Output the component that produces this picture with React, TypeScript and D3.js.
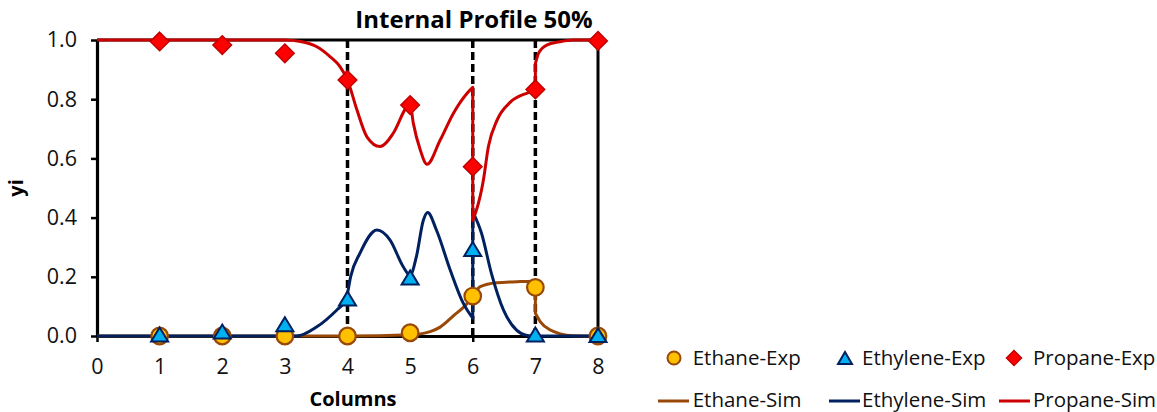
import React, { useEffect, useRef } from "react";
import * as d3 from "d3";

const W = 1157;
const H = 412;
const FONT = "'Open Sans', 'Noto Sans', sans-serif";

// axis ticks
const columnTicks = [0, 1, 2, 3, 4, 5, 6, 7, 8];
const yTicks = [0, 0.2, 0.4, 0.6, 0.8, 1.0];
const sectionLines = [4, 6, 7];

// experimental points
const expColumns = [1, 2, 3, 4, 5, 6, 7, 8];
const ethaneExp = [0, 0, 0, 0, 0.011, 0.135, 0.164, 0];
const ethyleneExp = [0.005, 0.015, 0.04, 0.127, 0.198, 0.294, 0.005, 0.003];
const propaneExp = [0.995, 0.983, 0.955, 0.865, 0.78, 0.572, 0.833, 0.997];

// simulated profiles, split at column jumps
const ethaneSimA = [
  [0, 0], [1, 0], [2, 0], [3, 0], [4, 0], [5, 0.004], [5.32, 0.015], [5.48, 0.03],
  [5.69, 0.068], [5.91, 0.11], [6, 0.135], [6.12, 0.167], [6.38, 0.18], [6.76, 0.184], [7, 0.185],
];
const ethaneSimB = [
  [7, 0.077], [7.08, 0.048], [7.24, 0.02], [7.4, 0.007], [7.6, 0.001], [8, 0],
];
const ethyleneSimA = [
  [0, 0], [1, 0], [2, 0], [3, 0], [3.19, 0], [3.51, 0.031], [3.83, 0.088], [3.93, 0.11],
  [4.0, 0.145], [4.05, 0.2], [4.2, 0.28], [4.47, 0.358], [4.68, 0.324], [4.89, 0.234],
  [5.0, 0.205], [5.1, 0.268], [5.21, 0.39], [5.28, 0.417], [5.42, 0.358], [5.64, 0.223],
  [5.85, 0.11], [6, 0.06],
];
const ethyleneSimB = [
  [6, 0.42], [6.14, 0.347], [6.3, 0.21], [6.49, 0.088], [6.7, 0.02], [6.85, 0.003], [7, 0], [8, 0],
];
const propaneSimA = [
  [0, 1], [1, 1], [2, 1], [3, 1], [3.25, 0.995], [3.51, 0.977], [3.72, 0.944], [3.88, 0.91],
  [4, 0.865], [4.15, 0.764], [4.31, 0.673], [4.52, 0.64], [4.73, 0.685], [4.95, 0.775],
  [5.0, 0.784], [5.05, 0.72], [5.16, 0.63], [5.27, 0.58], [5.48, 0.662], [5.69, 0.752],
  [5.91, 0.82], [6, 0.84],
];
const propaneSimB = [
  [6, 0.39], [6.09, 0.448], [6.14, 0.493], [6.17, 0.527], [6.25, 0.64], [6.39, 0.73],
  [6.6, 0.79], [6.86, 0.82], [7, 0.83],
];
const propaneSimC = [
  [7, 0.92], [7.05, 0.955], [7.18, 0.983], [7.39, 0.994], [7.6, 1], [8, 1],
];

const C = {
  ethaneLine: "#984807",
  ethaneFill: "#FFC000",
  ethyleneLine: "#002060",
  ethyleneFill: "#00B0F0",
  propaneLine: "#CC0000",
  propaneFill: "#FF0000",
  propaneEdge: "#C00000",
};

const triPath = (cx: number, cy: number, hw: number, hh: number) =>
  `M${cx},${cy - hh}L${cx + hw},${cy + hh}L${cx - hw},${cy + hh}Z`;
const diaPath = (cx: number, cy: number, r: number) =>
  `M${cx},${cy - r}L${cx + r},${cy}L${cx},${cy + r}L${cx - r},${cy}Z`;

export default function App() {
  const ref = useRef<SVGSVGElement>(null);

  useEffect(() => {
    document.body.style.margin = "0";
    const svg = d3.select(ref.current);
    svg.selectAll("*").remove();

    const x = d3.scaleLinear().domain([0, 8]).range([97, 598]);
    const y = d3.scaleLinear().domain([0, 1]).range([336, 40]);

    // section dashed lines
    svg
      .append("g")
      .selectAll("line")
      .data(sectionLines)
      .join("line")
      .attr("x1", (d) => x(d))
      .attr("x2", (d) => x(d))
      .attr("y1", y(1))
      .attr("y2", y(0))
      .attr("stroke", "#000")
      .attr("stroke-width", 3.5)
      .attr("stroke-dasharray", "8,4");

    // box top and right
    svg
      .append("line")
      .attr("x1", x(0))
      .attr("x2", x(8))
      .attr("y1", y(1))
      .attr("y2", y(1))
      .attr("stroke", "#000")
      .attr("stroke-width", 3);
    svg
      .append("line")
      .attr("x1", x(8))
      .attr("x2", x(8))
      .attr("y1", y(1))
      .attr("y2", y(0))
      .attr("stroke", "#000")
      .attr("stroke-width", 3);

    // axes
    const gy = svg
      .append("g")
      .attr("transform", `translate(${x(0)},0)`)
      .call(
        d3
          .axisLeft(y)
          .tickValues(yTicks)
          .tickFormat(d3.format(".1f"))
          .tickSize(6)
          .tickSizeOuter(0)
          .tickPadding(14)
      );
    const gx = svg
      .append("g")
      .attr("transform", `translate(0,${y(0)})`)
      .call(
        d3
          .axisBottom(x)
          .tickValues(columnTicks)
          .tickFormat(d3.format("d"))
          .tickSize(6)
          .tickSizeOuter(0)
      );
    [gx, gy].forEach((g) => {
      g.select(".domain").attr("stroke", "#000").attr("stroke-width", 3.2);
      g.selectAll(".tick line").attr("stroke", "#000").attr("stroke-width", 2.5);
      g.selectAll(".tick text")
        .attr("fill", "#111")
        .style("font-family", FONT)
        .style("font-size", "21.5px");
    });
    gx.selectAll(".tick text").attr("y", 38).attr("dy", 0);

    // sim lines
    const line = d3
      .line<number[]>()
      .x((d) => x(d[0]))
      .y((d) => y(d[1]))
      .curve(d3.curveMonotoneX);
    const joined = (segs: number[][][]) =>
      segs
        .map((s, i) => {
          const p = line(s) as string;
          return i === 0 ? p : "L" + p.slice(1);
        })
        .join("");

    const sims: [number[][][], string][] = [
      [[ethaneSimA, ethaneSimB], C.ethaneLine],
      [[ethyleneSimA, ethyleneSimB], C.ethyleneLine],
      [[propaneSimA, propaneSimB, propaneSimC], C.propaneLine],
    ];
    sims.forEach(([segs, col]) => {
      svg
        .append("path")
        .attr("d", joined(segs))
        .attr("fill", "none")
        .attr("stroke", col)
        .attr("stroke-width", 3)
        .attr("stroke-linejoin", "round");
    });

    // exp markers
    svg
      .append("g")
      .selectAll("circle")
      .data(expColumns)
      .join("circle")
      .attr("cx", (d) => x(d))
      .attr("cy", (_, i) => y(ethaneExp[i]))
      .attr("r", 8.3)
      .attr("fill", C.ethaneFill)
      .attr("stroke", C.ethaneLine)
      .attr("stroke-width", 2.2);
    svg
      .append("g")
      .selectAll("path")
      .data(expColumns)
      .join("path")
      .attr("d", (d, i) => triPath(x(d), y(ethyleneExp[i]), 8.5, 7))
      .attr("fill", C.ethyleneFill)
      .attr("stroke", C.ethyleneLine)
      .attr("stroke-width", 2);
    svg
      .append("g")
      .selectAll("path")
      .data(expColumns)
      .join("path")
      .attr("d", (d, i) => diaPath(x(d), y(propaneExp[i]), 9.3))
      .attr("fill", C.propaneFill)
      .attr("stroke", C.propaneEdge)
      .attr("stroke-width", 1.5);

    // titles
    svg
      .append("text")
      .attr("x", 474)
      .attr("y", 28)
      .attr("text-anchor", "middle")
      .style("font-family", FONT)
      .style("font-weight", "bold")
      .style("font-size", "24px")
      .attr("fill", "#000")
      .text("Internal Profile 50%");
    svg
      .append("text")
      .attr("x", 353)
      .attr("y", 406)
      .attr("text-anchor", "middle")
      .style("font-family", FONT)
      .style("font-weight", "bold")
      .style("font-size", "20px")
      .attr("fill", "#000")
      .text("Columns");
    svg
      .append("text")
      .attr("transform", "translate(23,188) rotate(-90)")
      .attr("text-anchor", "middle")
      .style("font-family", FONT)
      .style("font-weight", "bold")
      .style("font-size", "20px")
      .attr("fill", "#000")
      .text("yi");

    // legend
    const lg = svg.append("g").style("font-family", FONT).style("font-size", "20.5px");
    const row1 = 358;
    const row2 = 401;
    lg.append("circle")
      .attr("cx", 674)
      .attr("cy", row1)
      .attr("r", 6.5)
      .attr("fill", C.ethaneFill)
      .attr("stroke", C.ethaneLine)
      .attr("stroke-width", 2);
    lg.append("path")
      .attr("d", triPath(845, row1, 7, 6))
      .attr("fill", C.ethyleneFill)
      .attr("stroke", C.ethyleneLine)
      .attr("stroke-width", 2);
    lg.append("path")
      .attr("d", diaPath(1014, row1, 7.5))
      .attr("fill", C.propaneFill)
      .attr("stroke", C.propaneEdge)
      .attr("stroke-width", 1.5);
    const legendText: [number, number, string][] = [
      [692.7, row1 + 7, "Ethane-Exp"],
      [862, row1 + 7, "Ethylene-Exp"],
      [1033, row1 + 7, "Propane-Exp"],
      [692.7, row2 + 6, "Ethane-Sim"],
      [862, row2 + 6, "Ethylene-Sim"],
      [1033, row2 + 6, "Propane-Sim"],
    ];
    legendText.forEach(([tx, ty, t]) => {
      lg.append("text").attr("x", tx).attr("y", ty).attr("fill", "#111").text(t);
    });
    const legendLines: [number, number, string][] = [
      [658, 689, C.ethaneLine],
      [829, 860, C.ethyleneLine],
      [999, 1030, C.propaneLine],
    ];
    legendLines.forEach(([a, b, col]) => {
      lg.append("line")
        .attr("x1", a)
        .attr("x2", b)
        .attr("y1", row2)
        .attr("y2", row2)
        .attr("stroke", col)
        .attr("stroke-width", 3);
    });
  }, []);

  return (
    <svg
      ref={ref}
      width={W}
      height={H}
      style={{ display: "block", background: "#fff" }}
    />
  );
}
